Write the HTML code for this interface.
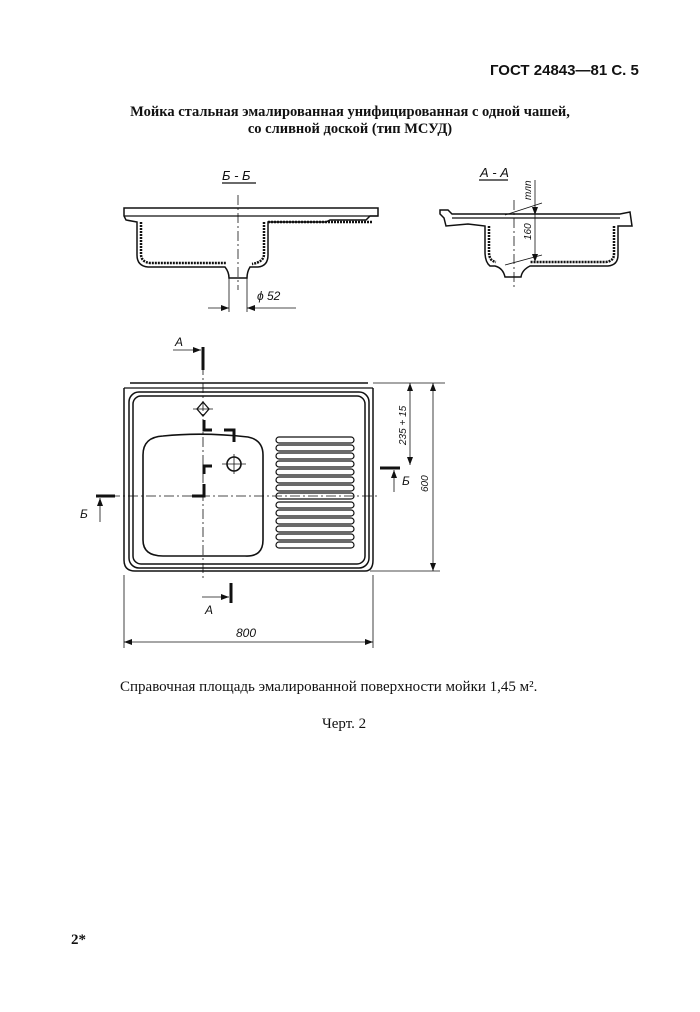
<!DOCTYPE html>
<html><head><meta charset="utf-8"><style>
body{margin:0;background:#fff;}
.p{position:relative;width:700px;height:1012px;overflow:hidden;font-family:"Liberation Serif","DejaVu Serif",serif;color:#111;}
.t{position:absolute;white-space:nowrap;}
</style></head><body><div class="p">
<div class="t" style="left:490px;top:62px;font-family:'Liberation Sans',sans-serif;font-weight:bold;font-size:15px;">ГОСТ 24843—81 С. 5</div>
<div class="t" style="left:0;width:700px;text-align:center;top:104px;font-weight:bold;font-size:14.5px;line-height:17px;">Мойка стальная эмалированная унифицированная с одной чашей,<br>со сливной доской (тип МСУД)</div>
<svg width="700" height="1012" style="position:absolute;left:0;top:0" fill="none" stroke="#111" stroke-width="1.3" font-family="Liberation Sans,sans-serif" font-style="italic">
<defs><marker id="a" markerWidth="8" markerHeight="6" refX="8" refY="3" orient="auto" markerUnits="userSpaceOnUse"><path d="M0 0 L8 3 L0 6 Z" fill="#111" stroke="none"/></marker>
<marker id="b" markerWidth="8" markerHeight="6" refX="0" refY="3" orient="auto" markerUnits="userSpaceOnUse"><path d="M8 0 L0 3 L8 6 Z" fill="#111" stroke="none"/></marker></defs>
<!-- Б-Б -->
<text x="222" y="180" font-size="13" fill="#111" stroke="none">Б - Б</text><line x1="222" y1="183" x2="256" y2="183"/>
<path d="M124 208 L378 208 L378 216 L370 216 L366 220 L330 220 L326 222 L268 222 L268 255 Q268 266 258 267 L250 267 Q247 272 247 278 L229 278 Q229 272 225 267 L148 267 Q137 266 137 255 L137 222 L126 220 L124 216 Z" stroke-width="1.5"/>
<path d="M141 222 L141 254 Q141 262 150 263 L226 263 M264 222 L264 254 Q264 262 252 264 M268 222 L372 222" stroke-width="2.5" stroke-dasharray="2 1"/>
<line x1="124" y1="216" x2="378" y2="216"/>
<line x1="238" y1="195" x2="238" y2="290" stroke-dasharray="10 3 2 3" stroke-width="0.8"/>
<line x1="229" y1="278" x2="229" y2="312" stroke-width="0.8"/><line x1="247" y1="278" x2="247" y2="312" stroke-width="0.8"/>
<line x1="208" y1="308" x2="229" y2="308" stroke-width="0.8" marker-end="url(#a)"/><line x1="296" y1="308" x2="247" y2="308" stroke-width="0.8" marker-end="url(#a)"/>
<text x="257" y="300" font-size="12" fill="#111" stroke="none">ϕ 52</text>
<!-- А-А -->
<text x="480" y="177" font-size="13" fill="#111" stroke="none">А - А</text><line x1="479" y1="180" x2="508" y2="180"/>
<path d="M440 210 L448 210 L452 214 L620 214 L630 212 L632 226 L618 226 L618 255 Q618 265 608 266 L530 266 Q522 270 521 277 L505 277 Q503 268 495 266 L490 266 Q485 262 485 252 L485 226 L468 224 L446 226 L444 218 L440 214 Z" stroke-width="1.5"/>
<path d="M489 226 L489 252 Q489 261 496 262 M614 226 L614 254 Q614 261 606 262 L530 262" stroke-width="2.5" stroke-dasharray="2 1"/>
<line x1="452" y1="218" x2="620" y2="218"/>
<line x1="514" y1="200" x2="514" y2="290" stroke-dasharray="10 3 2 3" stroke-width="0.8"/>
<line x1="535" y1="180" x2="535" y2="215" stroke-width="0.8" marker-end="url(#a)"/><line x1="535" y1="215" x2="535" y2="262" stroke-width="0.8" marker-end="url(#a)"/>
<line x1="505" y1="215" x2="542" y2="203" stroke-width="0.8"/><line x1="505" y1="265" x2="542" y2="255" stroke-width="0.8"/>
<text x="0" y="0" font-size="10" fill="#111" stroke="none" transform="translate(531,240) rotate(-90)">160</text>
<text x="0" y="0" font-size="10" fill="#111" stroke="none" transform="translate(531,200) rotate(-90)">mлn</text>
<!-- plan -->
<path d="M130 383 L368 383 M124 388 L124 560 Q124 571 135 571 L365 571 Q373 571 373 560 L373 388" stroke-width="1.5"/>
<line x1="124" y1="388" x2="373" y2="388"/>
<rect x="129" y="392" width="240" height="176" rx="10" stroke-width="1.5"/>
<rect x="133" y="396" width="232" height="168" rx="8" stroke-width="1.5"/>
<path d="M143 455 Q143 437 163 436 Q203 432 248 437 Q263 440 263 455 L263 540 Q263 557 245 556 L163 556 Q143 556 143 540 Z" stroke-width="1.6"/>
<g stroke-width="1.2">
<rect x="276" y="437" width="78" height="6" rx="3"/><rect x="276" y="445" width="78" height="6" rx="3"/><rect x="276" y="453" width="78" height="6" rx="3"/><rect x="276" y="461" width="78" height="6" rx="3"/><rect x="276" y="469" width="78" height="6" rx="3"/><rect x="276" y="477" width="78" height="6" rx="3"/><rect x="276" y="485" width="78" height="6" rx="3"/><rect x="276" y="493" width="78" height="6" rx="3"/><rect x="276" y="502" width="78" height="6" rx="3"/><rect x="276" y="510" width="78" height="6" rx="3"/><rect x="276" y="518" width="78" height="6" rx="3"/><rect x="276" y="526" width="78" height="6" rx="3"/><rect x="276" y="534" width="78" height="6" rx="3"/><rect x="276" y="542" width="78" height="6" rx="3"/>
</g>
<line x1="203" y1="365" x2="203" y2="580" stroke-dasharray="10 3 2 3" stroke-width="0.8"/>
<line x1="110" y1="496" x2="380" y2="496" stroke-dasharray="10 3 2 3" stroke-width="0.8"/>
<path d="M203 402 L209 409 L203 416 L197 409 Z"/><line x1="193" y1="409" x2="213" y2="409" stroke-width="0.8"/>
<circle cx="234" cy="464" r="7" stroke-width="1.6"/><line x1="222" y1="464" x2="246" y2="464" stroke-width="0.8"/><line x1="234" y1="454" x2="234" y2="474" stroke-width="0.8"/>
<g stroke-width="3"><path d="M204 420 L204 430 L212 430 M224 430 L234 430 L234 442 M204 474 L204 466 L212 466 M204 484 L204 496 L192 496 M203 347 L203 370 M231 583 L231 603 M96 496 L115 496 M380 468 L400 468"/></g>
<g stroke-width="0.8"><line x1="173" y1="350" x2="201" y2="350" marker-end="url(#a)"/><line x1="202" y1="597" x2="229" y2="597" marker-end="url(#a)"/><line x1="100" y1="522" x2="100" y2="498" marker-end="url(#a)"/><line x1="394" y1="492" x2="394" y2="470" marker-end="url(#a)"/>
<line x1="373" y1="383" x2="445" y2="383"/><line x1="370" y1="571" x2="440" y2="571"/><line x1="433" y1="383" x2="433" y2="571" marker-start="url(#b)" marker-end="url(#a)"/><line x1="410" y1="383" x2="410" y2="465" marker-start="url(#b)" marker-end="url(#a)"/><line x1="124" y1="575" x2="124" y2="648"/><line x1="373" y1="575" x2="373" y2="648"/><line x1="124" y1="642" x2="373" y2="642" marker-start="url(#b)" marker-end="url(#a)"/></g>
<g fill="#111" stroke="none" font-size="12">
<text x="175" y="346">А</text><text x="205" y="614">А</text><text x="80" y="518">Б</text><text x="402" y="485">Б</text><text x="236" y="637">800</text>
<text transform="translate(428,492) rotate(-90)" font-size="10">600</text>
<text transform="translate(406,445) rotate(-90)" font-size="10">235 + 15</text>
</g>
</svg>
<div class="t" style="left:120px;top:679px;font-size:15px;">Справочная площадь эмалированной поверхности мойки 1,45 м².</div>
<div class="t" style="left:322px;top:716px;font-size:15px;">Черт. 2</div>
<div class="t" style="left:71px;top:932px;font-size:15px;font-weight:bold;">2*</div>
</div></body></html>
